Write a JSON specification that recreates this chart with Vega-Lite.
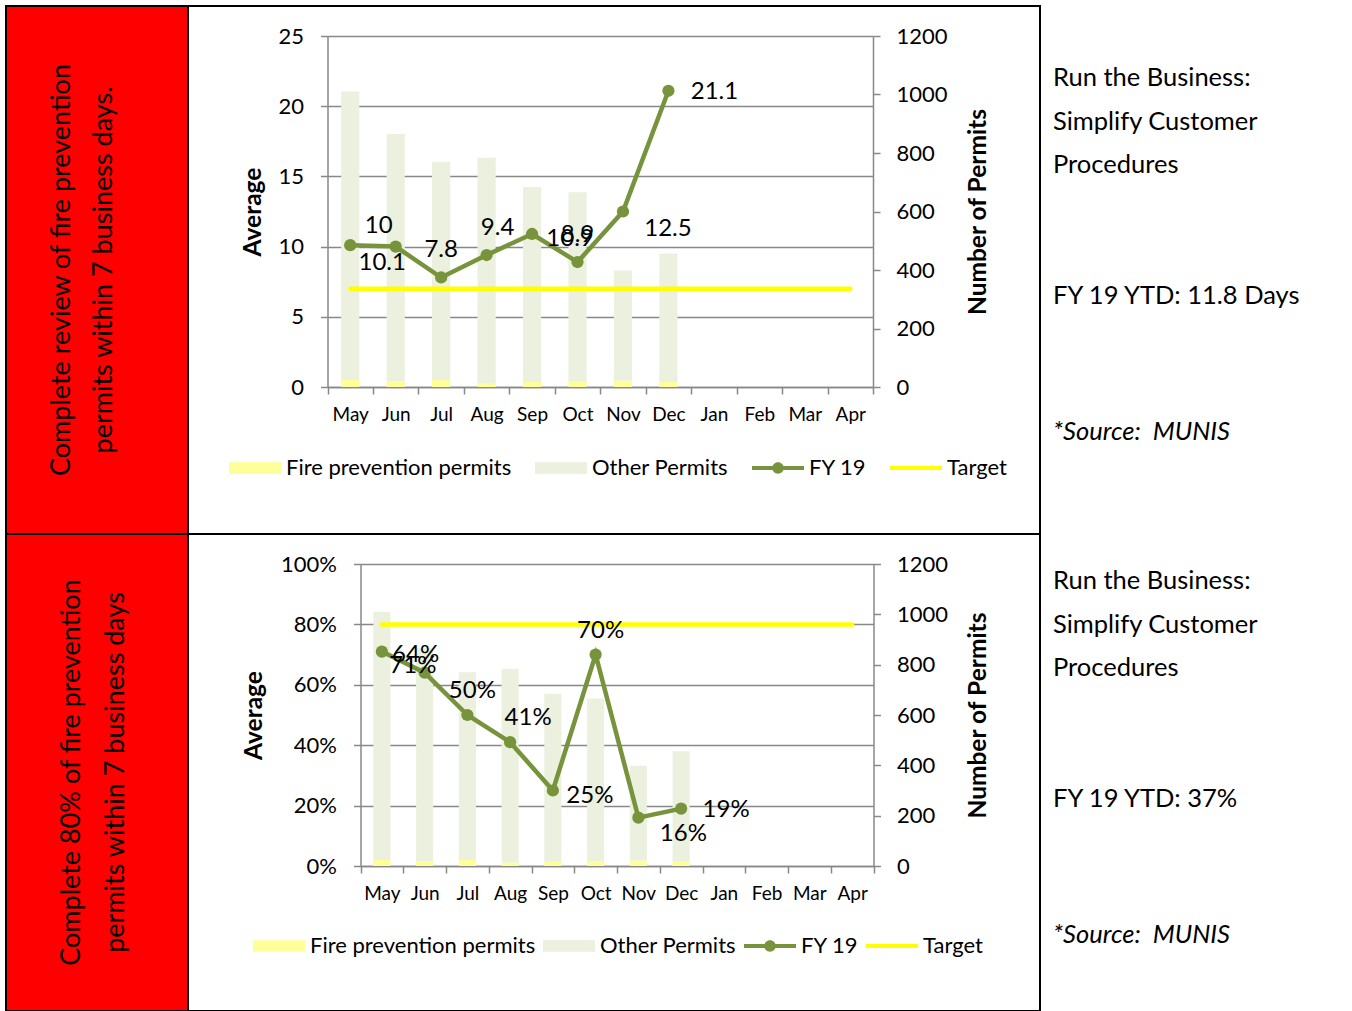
{
  "$schema": "https://vega.github.io/schema/vega-lite/v6.json",
  "padding": {"left": 5, "top": 5, "right": 0, "bottom": 0},
  "background": "white",
  "columns": 3,
  "spacing": 0,
  "bounds": "flush",
  "resolve": {"scale": {"color": "independent"}, "legend": {"color": "independent"}},
  "datasets": {
    "permits": [
      {"month": "May", "series": "Fire prevention permits", "permits": 24},
      {"month": "May", "series": "Other Permits", "permits": 986},
      {"month": "Jun", "series": "Fire prevention permits", "permits": 20},
      {"month": "Jun", "series": "Other Permits", "permits": 845},
      {"month": "Jul", "series": "Fire prevention permits", "permits": 24},
      {"month": "Jul", "series": "Other Permits", "permits": 746},
      {"month": "Aug", "series": "Fire prevention permits", "permits": 14},
      {"month": "Aug", "series": "Other Permits", "permits": 770},
      {"month": "Sep", "series": "Fire prevention permits", "permits": 17},
      {"month": "Sep", "series": "Other Permits", "permits": 667},
      {"month": "Oct", "series": "Fire prevention permits", "permits": 18},
      {"month": "Oct", "series": "Other Permits", "permits": 648},
      {"month": "Nov", "series": "Fire prevention permits", "permits": 22},
      {"month": "Nov", "series": "Other Permits", "permits": 376},
      {"month": "Dec", "series": "Fire prevention permits", "permits": 17},
      {"month": "Dec", "series": "Other Permits", "permits": 439}
    ],
    "fyDays": [
      {"month": "May", "avg": 10.1},
      {"month": "Jun", "avg": 10},
      {"month": "Jul", "avg": 7.8},
      {"month": "Aug", "avg": 9.4},
      {"month": "Sep", "avg": 10.9},
      {"month": "Oct", "avg": 8.9},
      {"month": "Nov", "avg": 12.5},
      {"month": "Dec", "avg": 21.1}
    ],
    "targetDays": [
      {"month": "May", "target": 7}, {"month": "Jun", "target": 7}, {"month": "Jul", "target": 7},
      {"month": "Aug", "target": 7}, {"month": "Sep", "target": 7}, {"month": "Oct", "target": 7},
      {"month": "Nov", "target": 7}, {"month": "Dec", "target": 7}, {"month": "Jan", "target": 7},
      {"month": "Feb", "target": 7}, {"month": "Mar", "target": 7}, {"month": "Apr", "target": 7}
    ],
    "fyRate": [
      {"month": "May", "rate": 0.71},
      {"month": "Jun", "rate": 0.64},
      {"month": "Jul", "rate": 0.50},
      {"month": "Aug", "rate": 0.41},
      {"month": "Sep", "rate": 0.25},
      {"month": "Oct", "rate": 0.70},
      {"month": "Nov", "rate": 0.16},
      {"month": "Dec", "rate": 0.19}
    ],
    "targetRate": [
      {"month": "May", "target": 0.8}, {"month": "Jun", "target": 0.8}, {"month": "Jul", "target": 0.8},
      {"month": "Aug", "target": 0.8}, {"month": "Sep", "target": 0.8}, {"month": "Oct", "target": 0.8},
      {"month": "Nov", "target": 0.8}, {"month": "Dec", "target": 0.8}, {"month": "Jan", "target": 0.8},
      {"month": "Feb", "target": 0.8}, {"month": "Mar", "target": 0.8}, {"month": "Apr", "target": 0.8}
    ]
  },
  "config": {
    "font": "Lato",
    "view": {"stroke": "black", "strokeWidth": 2},
    "axis": {
      "labelFont": "Lato", "labelFontSize": 22, "labelColor": "black",
      "titleFont": "Lato", "titleFontSize": 24.5, "titleFontWeight": "bold", "titleColor": "black",
      "domainColor": "#888888", "domainWidth": 1.5,
      "tickColor": "#888888", "tickWidth": 1.5, "tickSize": 7,
      "gridColor": "#888888", "gridWidth": 1.5, "gridOpacity": 1
    },
    "legend": {"labelFont": "Lato", "labelFontSize": 22, "labelColor": "black", "labelLimit": 400},
    "title": {"font": "Lato", "subtitleFont": "Lato", "color": "black", "subtitleColor": "black", "fontWeight": "normal", "fontSize": 25.5, "subtitleFontSize": 25.5},
    "text": {"font": "Lato", "fontSize": 24, "color": "black"}
  },
  "concat": [
    {
      "width": 182, "height": 528,
      "data": {"values": []},
      "mark": "text",
      "view": {"fill": "#FF0000", "stroke": "black", "strokeWidth": 2},
      "title": {
        "text": ["Complete review of fire prevention", "permits within 7 business days."],
        "orient": "left", "anchor": "middle", "frame": "group",
        "offset": -112, "fontSize": 27, "lineHeight": 42
      }
    },
    {
      "width": 852, "height": 528,
      "layer": [
        {
          "data": {"name": "permits"},
          "mark": {"type": "bar", "width": {"band": 0.4}},
          "encoding": {
            "x": {
              "field": "month", "type": "nominal",
              "scale": {"domain": ["May", "Jun", "Jul", "Aug", "Sep", "Oct", "Nov", "Dec", "Jan", "Feb", "Mar", "Apr"], "range": [139.5, 685], "paddingInner": 0, "paddingOuter": 0},
              "axis": {"orient": "bottom", "offset": -147, "title": null, "tickBand": "extent", "labelPadding": 11, "labelFontSize": 19, "labelAngle": 0, "grid": false}
            },
            "y": {
              "field": "permits", "type": "quantitative", "stack": "zero",
              "scale": {"domain": [0, 1200], "range": [381, 30], "nice": false},
              "axis": {"orient": "right", "offset": -167, "values": [0, 200, 400, 600, 800, 1000, 1200], "format": "d", "title": "Number of Permits", "titleAngle": 270, "titleBaseline": "top", "titlePadding": 19, "labelPadding": 16, "grid": false}
            },
            "color": {
              "field": "series", "type": "nominal",
              "scale": {"domain": ["Fire prevention permits", "Other Permits", "FY 19", "Target"], "range": ["#FFFF99", "#EBF1DE", "#77933C", "#FFFF00"]},
              "legend": {
                "orient": "none", "legendX": 41, "legendY": 436, "direction": "horizontal", "title": null,
                "symbolSize": 2704, "labelOffset": 5, "columnPadding": 23,
                "encode": {"symbols": {"update": {
                  "shape": {"signal": "datum.value === 'FY 19' ? 'M-1,-0.075H1V0.075H-1Z M-0.22,0A0.22,0.22,0,1,1,0.22,0A0.22,0.22,0,1,1,-0.22,0Z' : datum.value === 'Target' ? 'M-1,-0.08H1V0.08H-1Z' : 'M-1,-0.22H1V0.22H-1Z'"},
                  "fill": {"signal": "datum.value === 'Fire prevention permits' ? '#FFFF99' : datum.value === 'Other Permits' ? '#EBF1DE' : datum.value === 'FY 19' ? '#77933C' : '#FFFF00'"},
                  "stroke": {"value": "transparent"}, "strokeWidth": {"value": 0}, "opacity": {"value": 1}
                }}}
              }
            },
            "order": {"field": "series", "type": "nominal", "sort": "ascending"}
          }
        },
        {
          "layer": [
            {
              "data": {"name": "targetDays"},
              "mark": {"type": "line", "strokeWidth": 4.5, "strokeCap": "round"},
              "encoding": {
                "x": {"field": "month", "type": "nominal"},
                "y": {
                  "field": "target", "type": "quantitative",
                  "scale": {"domain": [0, 25], "range": [381, 30], "nice": false},
                  "axis": {"orient": "left", "offset": -139.5, "values": [0, 5, 10, 15, 20, 25], "title": "Average", "titlePadding": 12, "labelPadding": 17, "grid": true}
                },
                "color": {"datum": "Target"}
              }
            },
            {
              "data": {"name": "fyDays"},
              "mark": {"type": "line", "strokeWidth": 4.5, "point": {"filled": true, "size": 150}},
              "encoding": {
                "x": {"field": "month", "type": "nominal"},
                "y": {"field": "avg", "type": "quantitative"},
                "color": {"datum": "FY 19"}
              }
            },
            {"data": {"name": "fyDays"}, "transform": [{"filter": {"field": "month", "equal": "May"}}], "mark": {"type": "text", "dx": 32, "dy": 18}, "encoding": {"x": {"field": "month", "type": "nominal"}, "y": {"field": "avg", "type": "quantitative"}, "text": {"field": "avg", "type": "quantitative", "format": "~g"}}},
            {"data": {"name": "fyDays"}, "transform": [{"filter": {"field": "month", "equal": "Jun"}}], "mark": {"type": "text", "dx": -17, "dy": -21}, "encoding": {"x": {"field": "month", "type": "nominal"}, "y": {"field": "avg", "type": "quantitative"}, "text": {"field": "avg", "type": "quantitative", "format": "~g"}}},
            {"data": {"name": "fyDays"}, "transform": [{"filter": {"field": "month", "oneOf": ["Jul", "Oct"]}}], "mark": {"type": "text", "dx": 0, "dy": -27}, "encoding": {"x": {"field": "month", "type": "nominal"}, "y": {"field": "avg", "type": "quantitative"}, "text": {"field": "avg", "type": "quantitative", "format": "~g"}}},
            {"data": {"name": "fyDays"}, "transform": [{"filter": {"field": "month", "equal": "Aug"}}], "mark": {"type": "text", "dx": 11, "dy": -27}, "encoding": {"x": {"field": "month", "type": "nominal"}, "y": {"field": "avg", "type": "quantitative"}, "text": {"field": "avg", "type": "quantitative", "format": "~g"}}},
            {"data": {"name": "fyDays"}, "transform": [{"filter": {"field": "month", "equal": "Sep"}}], "mark": {"type": "text", "dx": 38, "dy": 5}, "encoding": {"x": {"field": "month", "type": "nominal"}, "y": {"field": "avg", "type": "quantitative"}, "text": {"field": "avg", "type": "quantitative", "format": "~g"}}},
            {"data": {"name": "fyDays"}, "transform": [{"filter": {"field": "month", "equal": "Nov"}}], "mark": {"type": "text", "dx": 45, "dy": 17}, "encoding": {"x": {"field": "month", "type": "nominal"}, "y": {"field": "avg", "type": "quantitative"}, "text": {"field": "avg", "type": "quantitative", "format": "~g"}}},
            {"data": {"name": "fyDays"}, "transform": [{"filter": {"field": "month", "equal": "Dec"}}], "mark": {"type": "text", "dx": 46, "dy": 1}, "encoding": {"x": {"field": "month", "type": "nominal"}, "y": {"field": "avg", "type": "quantitative"}, "text": {"field": "avg", "type": "quantitative", "format": "~g"}}}
          ]
        }
      ],
      "resolve": {"scale": {"y": "independent"}, "axis": {"y": "independent"}}
    },
    {
      "width": 312, "height": 528,
      "data": {"values": []},
      "mark": "text",
      "title": {
        "text": ["Run the Business:", "Simplify Customer", "Procedures", "\u200b", "\u200b", "FY 19 YTD: 11.8 Days"],
        "subtitle": "*Source:\u00a0 MUNIS",
        "orient": "top", "anchor": "start", "frame": "group",
        "offset": -439, "dx": 13, "lineHeight": 43.6,
        "subtitleFontStyle": "italic", "subtitlePadding": 110
      }
    },
    {
      "width": 182, "height": 477,
      "data": {"values": []},
      "mark": "text",
      "view": {"fill": "#FF0000", "stroke": "black", "strokeWidth": 2},
      "title": {
        "text": ["Complete 80% of fire prevention", "permits within 7 business days"],
        "orient": "left", "anchor": "middle", "frame": "group",
        "offset": -124, "fontSize": 27, "lineHeight": 44
      }
    },
    {
      "width": 852, "height": 477,
      "layer": [
        {
          "data": {"name": "permits"},
          "mark": {"type": "bar", "width": {"band": 0.4}},
          "encoding": {
            "x": {
              "field": "month", "type": "nominal",
              "scale": {"domain": ["May", "Jun", "Jul", "Aug", "Sep", "Oct", "Nov", "Dec", "Jan", "Feb", "Mar", "Apr"], "range": [172.5, 685.5], "paddingInner": 0, "paddingOuter": 0},
              "axis": {"orient": "bottom", "offset": -145, "title": null, "tickBand": "extent", "labelPadding": 11, "labelFontSize": 19, "labelAngle": 0, "grid": false}
            },
            "y": {
              "field": "permits", "type": "quantitative", "stack": "zero",
              "scale": {"domain": [0, 1200], "range": [332, 30], "nice": false},
              "axis": {"orient": "right", "offset": -166.5, "values": [0, 200, 400, 600, 800, 1000, 1200], "format": "d", "title": "Number of Permits", "titleAngle": 270, "titleBaseline": "top", "titlePadding": 19, "labelPadding": 16, "grid": false}
            },
            "color": {
              "field": "series", "type": "nominal",
              "scale": {"domain": ["Fire prevention permits", "Other Permits", "FY 19", "Target"], "range": ["#FFFF99", "#EBF1DE", "#77933C", "#FFFF00"]},
              "legend": {
                "orient": "none", "legendX": 65, "legendY": 386, "direction": "horizontal", "title": null,
                "symbolSize": 2704, "labelOffset": 5, "columnPadding": 7,
                "encode": {"symbols": {"update": {
                  "shape": {"signal": "datum.value === 'FY 19' ? 'M-1,-0.075H1V0.075H-1Z M-0.22,0A0.22,0.22,0,1,1,0.22,0A0.22,0.22,0,1,1,-0.22,0Z' : datum.value === 'Target' ? 'M-1,-0.08H1V0.08H-1Z' : 'M-1,-0.22H1V0.22H-1Z'"},
                  "fill": {"signal": "datum.value === 'Fire prevention permits' ? '#FFFF99' : datum.value === 'Other Permits' ? '#EBF1DE' : datum.value === 'FY 19' ? '#77933C' : '#FFFF00'"},
                  "stroke": {"value": "transparent"}, "strokeWidth": {"value": 0}, "opacity": {"value": 1}
                }}}
              }
            },
            "order": {"field": "series", "type": "nominal", "sort": "ascending"}
          }
        },
        {
          "layer": [
            {
              "data": {"name": "targetRate"},
              "mark": {"type": "line", "strokeWidth": 4.5, "strokeCap": "round"},
              "encoding": {
                "x": {"field": "month", "type": "nominal"},
                "y": {
                  "field": "target", "type": "quantitative",
                  "scale": {"domain": [0, 1], "range": [332, 30], "nice": false},
                  "axis": {"orient": "left", "offset": -172.5, "values": [0, 0.2, 0.4, 0.6, 0.8, 1], "format": ".0%", "title": "Average", "titlePadding": 14, "labelPadding": 17, "grid": true}
                },
                "color": {"datum": "Target"}
              }
            },
            {
              "data": {"name": "fyRate"},
              "mark": {"type": "line", "strokeWidth": 4.5, "point": {"filled": true, "size": 150}},
              "encoding": {
                "x": {"field": "month", "type": "nominal"},
                "y": {"field": "rate", "type": "quantitative"},
                "color": {"datum": "FY 19"}
              }
            },
            {"data": {"name": "fyRate"}, "transform": [{"filter": {"field": "month", "equal": "May"}}], "mark": {"type": "text", "dx": 31, "dy": 14}, "encoding": {"x": {"field": "month", "type": "nominal"}, "y": {"field": "rate", "type": "quantitative"}, "text": {"field": "rate", "type": "quantitative", "format": ".0%"}}},
            {"data": {"name": "fyRate"}, "transform": [{"filter": {"field": "month", "equal": "Jun"}}], "mark": {"type": "text", "dx": -9, "dy": -18}, "encoding": {"x": {"field": "month", "type": "nominal"}, "y": {"field": "rate", "type": "quantitative"}, "text": {"field": "rate", "type": "quantitative", "format": ".0%"}}},
            {"data": {"name": "fyRate"}, "transform": [{"filter": {"field": "month", "oneOf": ["Jul", "Oct"]}}], "mark": {"type": "text", "dx": 5, "dy": -24}, "encoding": {"x": {"field": "month", "type": "nominal"}, "y": {"field": "rate", "type": "quantitative"}, "text": {"field": "rate", "type": "quantitative", "format": ".0%"}}},
            {"data": {"name": "fyRate"}, "transform": [{"filter": {"field": "month", "equal": "Aug"}}], "mark": {"type": "text", "dx": 18, "dy": -24}, "encoding": {"x": {"field": "month", "type": "nominal"}, "y": {"field": "rate", "type": "quantitative"}, "text": {"field": "rate", "type": "quantitative", "format": ".0%"}}},
            {"data": {"name": "fyRate"}, "transform": [{"filter": {"field": "month", "equal": "Sep"}}], "mark": {"type": "text", "dx": 37, "dy": 5}, "encoding": {"x": {"field": "month", "type": "nominal"}, "y": {"field": "rate", "type": "quantitative"}, "text": {"field": "rate", "type": "quantitative", "format": ".0%"}}},
            {"data": {"name": "fyRate"}, "transform": [{"filter": {"field": "month", "equal": "Nov"}}], "mark": {"type": "text", "dx": 45, "dy": 16}, "encoding": {"x": {"field": "month", "type": "nominal"}, "y": {"field": "rate", "type": "quantitative"}, "text": {"field": "rate", "type": "quantitative", "format": ".0%"}}},
            {"data": {"name": "fyRate"}, "transform": [{"filter": {"field": "month", "equal": "Dec"}}], "mark": {"type": "text", "dx": 45, "dy": 1}, "encoding": {"x": {"field": "month", "type": "nominal"}, "y": {"field": "rate", "type": "quantitative"}, "text": {"field": "rate", "type": "quantitative", "format": ".0%"}}}
          ]
        }
      ],
      "resolve": {"scale": {"y": "independent"}, "axis": {"y": "independent"}}
    },
    {
      "width": 312, "height": 477,
      "data": {"values": []},
      "mark": "text",
      "title": {
        "text": ["Run the Business:", "Simplify Customer", "Procedures", "\u200b", "\u200b", "FY 19 YTD: 37%"],
        "subtitle": "*Source:\u00a0 MUNIS",
        "orient": "top", "anchor": "start", "frame": "group",
        "offset": -414, "dx": 13, "lineHeight": 43.6,
        "subtitleFontStyle": "italic", "subtitlePadding": 110
      }
    }
  ]
}
